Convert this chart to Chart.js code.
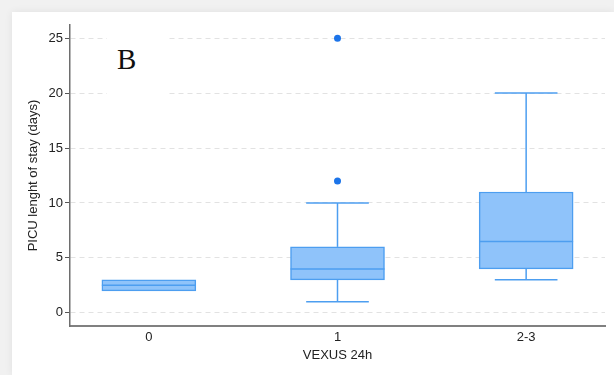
<!DOCTYPE html>
<html>
<head>
<meta charset="utf-8">
<script src="https://cdn.jsdelivr.net/npm/chart.js@4"></script>
<style>
  html, body { margin: 0; padding: 0; width: 614px; height: 375px; overflow: hidden; background: #f1f1f1; }
  #panel { position: absolute; left: 12px; top: 12px; right: 0; bottom: 0; background: #fff; box-shadow: 0 0 8px rgba(0,0,0,0.07); }
  #wrap { position: absolute; left: 0; top: 0; width: 614px; height: 375px; }
  #tagBox { position: absolute; left: 107px; top: 28px; width: 60px; height: 80px; background: #fff; }
  #tag { position: absolute; left: 117px; top: 45px; font-family: "Liberation Serif", "DejaVu Serif", serif; font-size: 29px; line-height: 29px; color: #111; }
</style>
</head>
<body>
<div id="panel"></div>
<div id="wrap"><canvas id="chart" width="614" height="375"></canvas></div>
<div id="tagBox"></div>
<div id="tag">B</div>
<script>
// Groups and five-number summaries (days in PICU)
const categories = ['0', '1', '2-3'];
const q1 = [2, 3, 4];
const median = [2.5, 4, 6.5];
const q3 = [3, 6, 11];
const whiskerLow = [2, 1, 3];
const whiskerHigh = [3, 10, 20];
// Outlying observations: group index and value
const outlierGroup = [1, 1];
const outlierValue = [12, 25];
const yTicks = [0, 5, 10, 15, 20, 25];

const boxFill = '#8fc3fa';
const boxLine = '#4d9ef0';
const font = { family: '"Liberation Sans", Arial, Helvetica, sans-serif', size: 13 };

// Medians, whiskers and caps drawn on top of the floating bars
const boxplotLines = {
  id: 'boxplotLines',
  afterDatasetsDraw(chart) {
    const ctx = chart.ctx;
    const y = chart.scales.y;
    const meta = chart.getDatasetMeta(0);
    ctx.save();
    ctx.strokeStyle = boxLine;
    ctx.lineWidth = 1.5;
    meta.data.forEach((bar, i) => {
      const cx = bar.x;
      const half = bar.width / 2;
      const cap = bar.width / 3;
      const line = (x1, y1, x2, y2) => { ctx.beginPath(); ctx.moveTo(x1, y1); ctx.lineTo(x2, y2); ctx.stroke(); };
      const yMed = y.getPixelForValue(median[i]);
      line(cx - half, yMed, cx + half, yMed);
      if (whiskerHigh[i] > q3[i]) {
        const yTop = y.getPixelForValue(whiskerHigh[i]);
        line(cx, y.getPixelForValue(q3[i]), cx, yTop);
        line(cx - cap, yTop, cx + cap, yTop);
      }
      if (whiskerLow[i] < q1[i]) {
        const yBot = y.getPixelForValue(whiskerLow[i]);
        line(cx, y.getPixelForValue(q1[i]), cx, yBot);
        line(cx - cap, yBot, cx + cap, yBot);
      }
    });
    ctx.restore();
  }
};

new Chart(document.getElementById('chart'), {
  type: 'bar',
  data: {
    datasets: [
      {
        type: 'bar',
        data: categories.map((c, i) => ({ x: i, y: [q1[i], q3[i]] })),
        backgroundColor: boxFill,
        borderColor: boxLine,
        borderWidth: 1.5,
        borderSkipped: false,
        barThickness: 94
      },
      {
        type: 'scatter',
        data: outlierGroup.map((g, i) => ({ x: g, y: outlierValue[i] })),
        pointRadius: 3.5,
        pointBackgroundColor: '#1c74e9',
        pointBorderWidth: 0
      }
    ]
  },
  options: {
    responsive: false,
    animation: false,
    layout: { padding: { left: 0, top: 25, right: 9, bottom: 0 } },
    plugins: { legend: { display: false }, tooltip: { enabled: false } },
    scales: {
      x: {
        type: 'linear',
        offset: false,
        min: -0.418,
        max: 2.418,
        afterBuildTicks: s => { s.ticks = categories.map((c, i) => ({ value: i })); },
        afterFit: s => { s.height = 49; },
        ticks: { callback: v => categories[v], font: font, color: '#222', padding: 4, maxRotation: 0 },
        grid: { drawOnChartArea: false, drawTicks: false },
        border: { color: '#808080', width: 2 },
        title: { display: true, text: 'VEXUS 24h', font: font, color: '#222', padding: { top: 0, bottom: 12 } }
      },
      y: {
        type: 'linear',
        min: -1.2,
        max: 26.2,
        afterBuildTicks: s => { s.ticks = yTicks.map(v => ({ value: v })); },
        afterFit: s => { s.width = 70; },
        ticks: { font: font, color: '#222', padding: 2 },
        grid: {
          color: '#e2e2e2',
          lineWidth: 1,
          tickLength: 5,
          tickColor: '#555',
          tickBorderDash: [],
          tickWidth: 1
        },
        border: { color: '#6e6e6e', width: 1.5, dash: [5, 4] },
        title: { display: true, text: 'PICU lenght of stay (days)', font: font, color: '#222', padding: { top: 26, bottom: 0 } }
      }
    }
  },
  plugins: [boxplotLines]
});
</script>
</body>
</html>
